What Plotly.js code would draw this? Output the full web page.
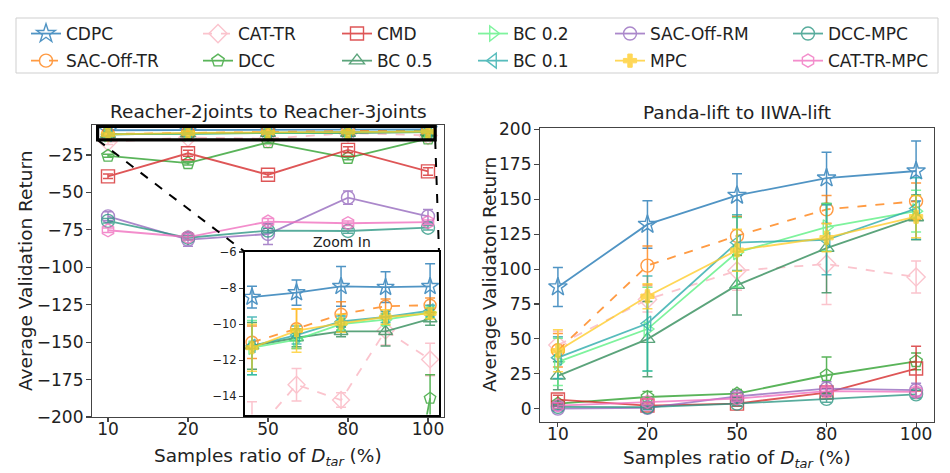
<!DOCTYPE html>
<html><head><meta charset="utf-8">
<script src="https://cdn.plot.ly/plotly-3.0.1.min.js"></script>
<style>html,body{margin:0;padding:0;background:#fff;} #chart{width:950px;height:473px;}</style>
</head><body><div id="chart"></div>
<script>
// ---------------- DATA ----------------
const ratios = ['10', '20', '50', '80', '100'];
const methods = ['CDPC','SAC-Off-TR','CAT-TR','DCC','CMD','BC 0.5','BC 0.2','BC 0.1','SAC-Off-RM','MPC','DCC-MPC','CAT-TR-MPC'];

// Reacher-2joints to Reacher-3joints (mean, std)
const reacher_CDPC       = [-8.5, -8.25, -7.9, -7.95, -7.9];
const reacher_CDPC_err   = [0.6, 0.7, 1.1, 0.85, 1.25];
const reacher_SACOffTR   = [-11.0, -10.25, -9.45, -9.0, -8.95];
const reacher_SACOffTR_err = [0.9, 1.1, 0.7, 0.4, 0.4];
const reacher_CATTR      = [-16.2, -13.35, -14.2, -10.35, -11.95];
const reacher_CATTR_err  = [1.9, 0.9, 0.4, 0.8, 0.9];
const reacher_DCC        = [-25.6, -30.5, -16.6, -27.0, -14.1];
const reacher_DCC_err    = [1.0, 1.2, 1.0, 1.2, 1.3];
const reacher_CMD        = [-39.3, -23.9, -38.2, -21.6, -36.0];
const reacher_CMD_err    = [1.5, 2.0, 1.5, 2.0, 2.5];
const reacher_BC05       = [-11.2, -10.75, -10.4, -10.4, -9.7];
const reacher_BC05_err   = [1.3, 0.5, 0.3, 0.8, 0.35];
const reacher_BC02       = [-11.3, -10.85, -10.0, -9.75, -9.35];
const reacher_BC02_err   = [1.5, 0.5, 0.3, 0.3, 0.3];
const reacher_BC01       = [-11.2, -10.6, -9.85, -9.6, -9.25];
const reacher_BC01_err   = [1.6, 0.5, 0.3, 0.3, 0.3];
const reacher_SACOffRM   = [-66.0, -81.5, -77.8, -53.5, -66.0];
const reacher_SACOffRM_err = [3.0, 4.5, 7.0, 4.5, 4.5];
const reacher_MPC        = [-11.3, -10.35, -9.95, -9.6, -9.4];
const reacher_MPC_err    = [1.3, 1.2, 0.5, 0.4, 0.3];
const reacher_DCCMPC     = [-69.0, -80.3, -75.5, -75.8, -73.6];
const reacher_DCCMPC_err = [1.5, 1.5, 1.5, 1.5, 1.5];
const reacher_CATTRMPC   = [-75.3, -79.8, -69.5, -70.6, -69.9];
const reacher_CATTRMPC_err = [1.5, 2.0, 2.0, 1.5, 1.5];

// Panda-lift to IIWA-lift (mean, std)
const panda_CDPC       = [87.2, 132.0, 152.8, 165.2, 170.3];
const panda_CDPC_err   = [14, 17, 15.5, 18.5, 21.5];
const panda_SACOffTR   = [41.8, 102.5, 123.8, 142.8, 148.6];
const panda_SACOffTR_err = [12, 14, 14, 10, 13];
const panda_CATTR      = [45.5, 78.2, 98.8, 103.6, 94.3];
const panda_CATTR_err  = [10, 9, 14, 29, 11.5];
const panda_DCC        = [3.6, 8.3, 10.7, 23.9, 33.9];
const panda_DCC_err    = [2, 4, 3, 13, 6];
const panda_CMD        = [6.5, 2.2, 3.6, 11.5, 28.7];
const panda_CMD_err    = [3, 2, 2, 3, 16];
const panda_BC05       = [23.5, 49.8, 88.5, 115.0, 137.0];
const panda_BC05_err   = [10, 27, 21.5, 32, 16];
const panda_BC02       = [33.5, 57.0, 112.0, 130.0, 141.5];
const panda_BC02_err   = [17, 30, 25, 17, 15];
const panda_BC01       = [36.5, 61.0, 119.0, 121.0, 143.4];
const panda_BC01_err   = [15, 34, 20, 25, 22];
const panda_SACOffRM   = [0.0, 0.5, 8.8, 14.3, 13.2];
const panda_SACOffRM_err = [1.5, 1.5, 3, 5, 5];
const panda_MPC        = [41.5, 80.5, 113.5, 122.5, 137.5];
const panda_MPC_err    = [15, 9, 15, 10, 15];
const panda_DCCMPC     = [1.2, 1.0, 3.6, 7.0, 10.2];
const panda_DCCMPC_err = [1.5, 1.5, 1.5, 2.5, 3];
const panda_CATTRMPC   = [2.2, 4.8, 7.2, 12.5, 12.0];
const panda_CATTRMPC_err = [2, 2, 2, 3, 3];

const reacherData = {
  'CDPC': [reacher_CDPC, reacher_CDPC_err], 'SAC-Off-TR': [reacher_SACOffTR, reacher_SACOffTR_err],
  'CAT-TR': [reacher_CATTR, reacher_CATTR_err], 'DCC': [reacher_DCC, reacher_DCC_err],
  'CMD': [reacher_CMD, reacher_CMD_err], 'BC 0.5': [reacher_BC05, reacher_BC05_err],
  'BC 0.2': [reacher_BC02, reacher_BC02_err], 'BC 0.1': [reacher_BC01, reacher_BC01_err],
  'SAC-Off-RM': [reacher_SACOffRM, reacher_SACOffRM_err], 'MPC': [reacher_MPC, reacher_MPC_err],
  'DCC-MPC': [reacher_DCCMPC, reacher_DCCMPC_err], 'CAT-TR-MPC': [reacher_CATTRMPC, reacher_CATTRMPC_err]
};
const pandaData = {
  'CDPC': [panda_CDPC, panda_CDPC_err], 'SAC-Off-TR': [panda_SACOffTR, panda_SACOffTR_err],
  'CAT-TR': [panda_CATTR, panda_CATTR_err], 'DCC': [panda_DCC, panda_DCC_err],
  'CMD': [panda_CMD, panda_CMD_err], 'BC 0.5': [panda_BC05, panda_BC05_err],
  'BC 0.2': [panda_BC02, panda_BC02_err], 'BC 0.1': [panda_BC01, panda_BC01_err],
  'SAC-Off-RM': [panda_SACOffRM, panda_SACOffRM_err], 'MPC': [panda_MPC, panda_MPC_err],
  'DCC-MPC': [panda_DCCMPC, panda_DCCMPC_err], 'CAT-TR-MPC': [panda_CATTRMPC, panda_CATTRMPC_err]
};

const reacherTicks = [-200, -175, -150, -125, -100, -75, -50, -25];
const insetTicks = [-14, -12, -10, -8, -6];
const pandaTicks = [0, 25, 50, 75, 100, 125, 150, 175, 200];

// ---------------- STYLE ----------------
const FONT = 'DejaVu Sans, Verdana, sans-serif';
const W = 950, H = 473;
const styles = {
  'CDPC':       {color: 'rgb(31,119,180)',  symbol: 'star-open',           size: 14, dash: 'solid', legend: 'legend'},
  'SAC-Off-TR': {color: 'rgb(255,127,14)',  symbol: 'circle-open',         size: 13, dash: 'dash',  legend: 'legend'},
  'CAT-TR':     {color: 'rgb(250,180,192)', symbol: 'diamond-open',        size: 14, dash: 'dash',  legend: 'legend2'},
  'DCC':        {color: 'rgb(44,160,44)',   symbol: 'pentagon-open',       size: 13, dash: 'solid', legend: 'legend2'},
  'CMD':        {color: 'rgb(214,39,40)',   symbol: 'square-open',         size: 13, dash: 'solid', legend: 'legend3'},
  'BC 0.5':     {color: 'rgb(46,139,87)',   symbol: 'triangle-up-open',    size: 13, dash: 'solid', legend: 'legend3'},
  'BC 0.2':     {color: 'rgb(90,240,130)',  symbol: 'triangle-right-open', size: 13, dash: 'solid', legend: 'legend4'},
  'BC 0.1':     {color: 'rgb(40,170,170)',  symbol: 'triangle-left-open',  size: 13, dash: 'solid', legend: 'legend4'},
  'SAC-Off-RM': {color: 'rgb(148,103,189)', symbol: 'circle-open',         size: 13, dash: 'solid', legend: 'legend5'},
  'MPC':        {color: 'rgb(255,205,40)',  symbol: 'cross',               size: 11, dash: 'solid', legend: 'legend5'},
  'DCC-MPC':    {color: 'rgb(42,150,130)',  symbol: 'circle-open',         size: 13, dash: 'solid', legend: 'legend6'},
  'CAT-TR-MPC': {color: 'rgb(240,110,190)', symbol: 'hexagon-open',        size: 13, dash: 'solid', legend: 'legend6'}
};

// pixel boxes of the axes
const boxes = {
  main:  {x: [92, 444],  y: [125, 417],   xr: [-0.2, 4.2],   yr: [-200, -5]},
  right: {x: [540, 934], y: [128, 422],   xr: [-0.2, 4.2],   yr: [-9.6, 201.1]},
  inset: {x: [245, 439], y: [252, 414.5], xr: [-0.157, 4.2], yr: [-15, -6]}
};
const xdom = b => [b.x[0] / W, b.x[1] / W];
const ydom = b => [1 - b.y[1] / H, 1 - b.y[0] / H];
const px = p => p / W, py = p => 1 - p / H;

function makeTrace(name, vals, errs, xa, ya, showlegend, insetMode) {
  const s = styles[name];
  const filled = s.symbol === 'cross';
  return {
    type: 'scatter', mode: 'lines+markers', name: name,
    x: ratios, y: vals, xaxis: xa, yaxis: ya,
    legend: s.legend, showlegend: showlegend, legendgroup: name,
    opacity: 0.78,
    line: {color: s.color, width: 1.8, dash: s.dash},
    marker: {symbol: s.symbol, size: insetMode ? s.size - 1 : s.size, color: s.color,
             line: {color: s.color, width: filled ? 1 : 1.4}},
    error_y: {type: 'data', array: errs, visible: true, color: s.color, thickness: 1.5, width: 5},
    cliponaxis: true
  };
}

const traces = [];
methods.forEach(m => traces.push(makeTrace(m, reacherData[m][0], reacherData[m][1], 'x', 'y', true, false)));
methods.forEach(m => traces.push(makeTrace(m, pandaData[m][0], pandaData[m][1], 'x2', 'y2', false, false)));
methods.forEach(m => traces.push(makeTrace(m, reacherData[m][0], reacherData[m][1], 'x3', 'y3', false, true)));

const axisCommon = {
  showline: true, mirror: true, linecolor: '#444', linewidth: 1.1,
  ticks: 'outside', ticklen: 5, tickwidth: 1.1, tickcolor: '#444',
  showgrid: false, zeroline: false,
  tickfont: {family: FONT, size: 17, color: '#222'}
};
const xAxisExtra = {ticklabelstandoff: -8, ticklen: 4};

const layout = {
  width: W, height: H,
  margin: {l: 0, r: 0, t: 0, b: 0},
  paper_bgcolor: '#fff', plot_bgcolor: 'rgba(0,0,0,0)',
  showlegend: true,
  xaxis: Object.assign({}, axisCommon, xAxisExtra, {domain: xdom(boxes.main), type: 'category', range: boxes.main.xr, anchor: 'y'}),
  yaxis: Object.assign({}, axisCommon, {domain: ydom(boxes.main), range: boxes.main.yr, tickvals: reacherTicks, anchor: 'x', ticklabelstandoff: -1}),
  xaxis2: Object.assign({}, axisCommon, xAxisExtra, {domain: xdom(boxes.right), type: 'category', range: boxes.right.xr, anchor: 'y2'}),
  yaxis2: Object.assign({}, axisCommon, {domain: ydom(boxes.right), range: boxes.right.yr, tickvals: pandaTicks, anchor: 'x2', ticklabelstandoff: -1}),
  xaxis3: Object.assign({}, axisCommon, {domain: xdom(boxes.inset), type: 'category', range: boxes.inset.xr, anchor: 'y3',
           showticklabels: false, ticks: '', linecolor: '#000', linewidth: 2}),
  yaxis3: Object.assign({}, axisCommon, {domain: ydom(boxes.inset), range: boxes.inset.yr, tickvals: insetTicks, anchor: 'x3',
           linecolor: '#000', linewidth: 2, ticklen: 4, tickfont: {family: FONT, size: 11.5, color: '#222'}}),
  annotations: [],
  shapes: []
};

// legends: six columns, two rows each
const legendTextX = [70, 242, 381, 517, 654, 832];
legendTextX.forEach((tx, i) => {
  layout[i === 0 ? 'legend' : 'legend' + (i + 1)] = {
    x: px(tx - 44), xanchor: 'left', y: py(16), yanchor: 'top',
    orientation: 'v', bgcolor: 'rgba(0,0,0,0)', borderwidth: 0,
    font: {family: FONT, size: 17, color: '#222'}, tracegroupgap: 2, itemwidth: 30
  };
});
layout.shapes.push({type: 'rect', xref: 'paper', yref: 'paper', x0: px(16), x1: px(938), y0: py(73), y1: py(18),
                    line: {color: '#cfcfcf', width: 1}, fillcolor: 'rgba(0,0,0,0)'});

// zoom rectangle and connectors
const mainToPx = (xi, v) => {
  const b = boxes.main;
  return [b.x[0] + (xi - b.xr[0]) / (b.xr[1] - b.xr[0]) * (b.x[1] - b.x[0]),
          b.y[1] - (v - b.yr[0]) / (b.yr[1] - b.yr[0]) * (b.y[1] - b.y[0])];
};
const zx0 = -0.13, zx1 = 4.09, zy0 = -15, zy1 = -6;
layout.shapes.push({type: 'rect', xref: 'x', yref: 'y', x0: zx0, x1: zx1, y0: zy0, y1: zy1,
                    line: {color: '#000', width: 3.2}, fillcolor: 'rgba(0,0,0,0)'});
const bl = mainToPx(zx0, zy0), br = mainToPx(zx1, zy0);
layout.shapes.push({type: 'line', xref: 'paper', yref: 'paper', x0: px(bl[0]), y0: py(bl[1]),
                    x1: px(boxes.inset.x[0]), y1: py(boxes.inset.y[0]), line: {color: '#000', width: 2, dash: 'dash'}});
layout.shapes.push({type: 'line', xref: 'paper', yref: 'paper', x0: px(br[0]), y0: py(br[1]),
                    x1: px(boxes.inset.x[1]), y1: py(boxes.inset.y[0]), line: {color: '#000', width: 2, dash: 'dash'}});

// titles
const ann = (text, x, y, size, extra) => Object.assign({text: text, xref: 'paper', yref: 'paper', x: px(x), y: py(y),
  xanchor: 'center', yanchor: 'middle', showarrow: false, font: {family: FONT, size: size, color: '#222'}}, extra || {});
layout.annotations.push(ann('Reacher-2joints to Reacher-3joints', 268, 111, 18.5));
layout.annotations.push(ann('Panda-lift to IIWA-lift', 737, 112, 18.5));
layout.annotations.push(ann('Zoom In', 342, 242, 14));
layout.annotations.push(ann('Average Validation Return', 25, 271, 18.5, {textangle: -90}));
layout.annotations.push(ann('Average Validaton Return', 489, 275, 18.5, {textangle: -90}));
const xt = 'Samples ratio of <i>D</i><sub><i>tar</i></sub> (%)';
layout.annotations.push(ann(xt, 268, 457, 18.5));
layout.annotations.push(ann(xt, 737, 459, 18.5));

Plotly.newPlot('chart', traces, layout, {displayModeBar: false, staticPlot: true});
</script>
</body></html>
